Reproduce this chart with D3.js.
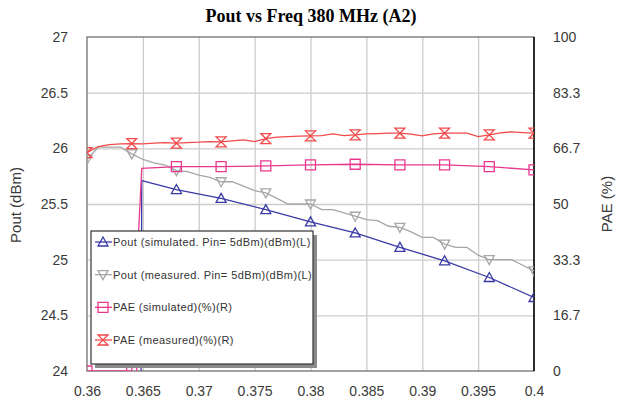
<!DOCTYPE html>
<html>
<head>
<meta charset="utf-8">
<script src="https://cdn.jsdelivr.net/npm/d3@7/dist/d3.min.js"></script>
<style>
  body { margin: 0; background: #fff; }
  text { font-family: "Liberation Sans", Arial, sans-serif; }
</style>
</head>
<body>
<div id="chart"></div>
<script>
// Pout / PAE vs frequency (GHz), 380 MHz board A2

// measured sweep
var measFreq = [0.360, 0.361, 0.362, 0.363, 0.364, 0.365, 0.366, 0.367, 0.368, 0.369,
                0.370, 0.371, 0.372, 0.373, 0.374, 0.375, 0.376, 0.377, 0.378, 0.379,
                0.380, 0.381, 0.382, 0.383, 0.384, 0.385, 0.386, 0.387, 0.388, 0.389,
                0.390, 0.391, 0.392, 0.393, 0.394, 0.395, 0.396, 0.397, 0.398, 0.399, 0.400];
var poutMeas = [25.90, 26.01, 26.01, 26.01, 25.95, 25.90, 25.87, 25.85, 25.80, 25.79,
                25.76, 25.74, 25.70, 25.70, 25.66, 25.62, 25.60, 25.55, 25.50, 25.50,
                25.50, 25.45, 25.45, 25.42, 25.39, 25.36, 25.35, 25.30, 25.29, 25.25,
                25.20, 25.20, 25.14, 25.11, 25.11, 25.04, 25.00, 25.00, 25.00, 24.95, 24.90];
var paeMeas = [65.4, 67.2, 67.8, 68.0, 68.1, 68.0, 68.2, 68.4, 68.2, 68.4,
               68.5, 68.7, 68.6, 68.9, 69.2, 68.7, 69.6, 70.0, 70.2, 70.3,
               70.4, 70.5, 71.0, 70.5, 70.7, 71.0, 71.1, 71.2, 71.2, 70.9,
               70.4, 71.0, 71.2, 71.2, 71.2, 70.2, 70.7, 71.3, 71.6, 71.4, 71.2];

// simulated sweep (fails below ~0.365)
var simFreq = [0.360, 0.364, 0.3649, 0.368, 0.372, 0.376, 0.380, 0.384, 0.388, 0.392, 0.396, 0.400];
var poutSim = [0, 0, 25.71, 25.63, 25.55, 25.45, 25.34, 25.24, 25.11, 24.99, 24.84, 24.66];
var paeSim  = [0, 0, 60.7, 61.2, 61.2, 61.4, 61.7, 61.9, 61.7, 61.7, 61.2, 60.2];

var xTicks = [0.36, 0.365, 0.37, 0.375, 0.38, 0.385, 0.39, 0.395, 0.4];
var poutTicks = [24, 24.5, 25, 25.5, 26, 26.5, 27];
var paeTickLabels = ["0", "16.7", "33.3", "50", "66.7", "83.3", "100"];

var legendLabels = ["Pout (simulated. Pin= 5dBm)(dBm)(L)",
                    "Pout (measured. Pin= 5dBm)(dBm)(L)",
                    "PAE (simulated)(%)(R)",
                    "PAE (measured)(%)(R)"];

var width = 618, height = 404;
var pLeft = 87, pRight = 534, pTop = 37, pBottom = 371;

var svg = d3.select("#chart").append("svg")
  .attr("width", width)
  .attr("height", height);

var x = d3.scaleLinear().domain([0.36, 0.4]).range([pLeft, pRight]);
var yL = d3.scaleLinear().domain([24, 27]).range([pBottom, pTop]);
var yR = d3.scaleLinear().domain([0, 100]).range([pBottom, pTop]);

// clip
svg.append("clipPath").attr("id", "plotclip")
  .append("rect")
  .attr("x", pLeft).attr("y", pTop)
  .attr("width", pRight - pLeft).attr("height", pBottom - pTop);

// grid
svg.append("g")
  .attr("transform", "translate(0," + pBottom + ")")
  .call(d3.axisBottom(x).tickValues(xTicks.slice(1, -1)).tickSize(-(pBottom - pTop)).tickFormat(""))
  .call(g => g.select(".domain").remove())
  .selectAll("line").attr("stroke", "#cdcdcd").attr("stroke-width", 1.3);

svg.append("g")
  .attr("transform", "translate(" + pLeft + ",0)")
  .call(d3.axisLeft(yL).tickValues(poutTicks.slice(1, -1)).tickSize(-(pRight - pLeft)).tickFormat(""))
  .call(g => g.select(".domain").remove())
  .selectAll("line").attr("stroke", "#cdcdcd").attr("stroke-width", 1.3);

// tick labels
var xAxis = svg.append("g")
  .attr("transform", "translate(0," + pBottom + ")")
  .call(d3.axisBottom(x).tickValues(xTicks).tickSize(0).tickPadding(15).tickFormat(d => String(d)));
xAxis.select(".domain").remove();

var lAxis = svg.append("g")
  .attr("transform", "translate(" + pLeft + ",0)")
  .call(d3.axisLeft(yL).tickValues(poutTicks).tickSize(0).tickPadding(19).tickFormat(d => String(d)));
lAxis.select(".domain").remove();

var rAxis = svg.append("g")
  .attr("transform", "translate(" + pRight + ",0)")
  .call(d3.axisRight(yR).tickValues(paeTickLabels.map((d, i) => i * 100 / 6))
    .tickSize(0).tickPadding(19).tickFormat((d, i) => paeTickLabels[i]));
rAxis.select(".domain").remove();

svg.selectAll(".tick text")
  .attr("font-family", "Liberation Sans, Arial, sans-serif")
  .attr("font-size", 14)
  .attr("fill", "#3a3a3a");

// frame
svg.append("rect")
  .attr("x", pLeft).attr("y", pTop)
  .attr("width", pRight - pLeft).attr("height", pBottom - pTop)
  .attr("fill", "none").attr("stroke", "#707070").attr("stroke-width", 1.3);
svg.append("line")
  .attr("x1", pRight).attr("x2", pRight).attr("y1", pTop).attr("y2", pBottom)
  .attr("stroke", "#111").attr("stroke-width", 1.6);

// title & axis titles
svg.append("text")
  .attr("x", 311).attr("y", 22)
  .attr("text-anchor", "middle")
  .style("font-family", "Liberation Serif, Times New Roman, serif")
  .attr("font-weight", "bold").attr("font-size", 18)
  .text("Pout vs Freq 380 MHz (A2)");

svg.append("text")
  .attr("transform", "translate(21,205) rotate(-90)")
  .attr("text-anchor", "middle")
  .attr("font-size", 15).attr("fill", "#3a3a3a")
  .text("Pout (dBm)");

svg.append("text")
  .attr("transform", "translate(612,204) rotate(-90)")
  .attr("text-anchor", "middle")
  .attr("font-size", 15).attr("fill", "#3a3a3a")
  .text("PAE (%)");

// marker shapes
var shapes = {
  up:   "M0,-5L5,4L-5,4Z",
  down: "M0,5L5,-4L-5,-4Z",
  square: "M-5,-5H5V5H-5Z",
  hour: "M-5,-5H5L-5,5H5Z"
};

var series = [
  { freq: simFreq,  vals: poutSim,  y: yL, color: "#3a3aa6", shape: "up" },
  { freq: measFreq, vals: poutMeas, y: yL, color: "#a6a6a6", shape: "down" },
  { freq: simFreq,  vals: paeSim,   y: yR, color: "#e8388e", shape: "square" },
  { freq: measFreq, vals: paeMeas,  y: yR, color: "#f24a4a", shape: "hour" }
];

var plot = svg.append("g").attr("clip-path", "url(#plotclip)");

series.forEach(function(s) {
  var pts = s.freq.map((f, i) => [f, s.vals[i]]);
  var line = d3.line().x(d => x(d[0])).y(d => s.y(d[1]));
  plot.append("path")
    .attr("d", line(pts))
    .attr("fill", "none")
    .attr("stroke", s.color)
    .attr("stroke-width", 1.3);

  // markers every 0.004
  var marks = pts.filter(d => Math.abs(d[0] * 250 - Math.round(d[0] * 250)) < 1e-6);
  plot.selectAll(null)
    .data(marks).enter()
    .append("path")
    .attr("d", shapes[s.shape])
    .attr("transform", d => "translate(" + x(d[0]) + "," + s.y(d[1]) + ")")
    .attr("fill", "none")
    .attr("stroke", s.color)
    .attr("stroke-width", 1.3);
});

// legend
var lg = svg.append("g").attr("transform", "translate(91,231)");
var lw = 222, lh = 133;
lg.append("rect")
  .attr("x", 4).attr("y", 4).attr("width", lw).attr("height", lh)
  .attr("fill", "#8a8a8a");
lg.append("rect")
  .attr("x", 0).attr("y", 0).attr("width", lw).attr("height", lh)
  .attr("fill", "#fff").attr("stroke", "#333").attr("stroke-width", 1.2);

var rowY = d3.scalePoint().domain(d3.range(legendLabels.length)).range([11, 109]);

var rows = lg.selectAll(".lrow")
  .data(series).enter()
  .append("g")
  .attr("class", "lrow")
  .attr("transform", (d, i) => "translate(0," + rowY(i) + ")");

rows.append("line")
  .attr("x1", 4).attr("x2", 21).attr("y1", 0).attr("y2", 0)
  .attr("stroke", d => d.color).attr("stroke-width", 1.3);
rows.append("path")
  .attr("d", d => shapes[d.shape])
  .attr("transform", "translate(12,0)")
  .attr("fill", "none")
  .attr("stroke", d => d.color).attr("stroke-width", 1.3);
rows.append("text")
  .attr("x", 22).attr("y", 4)
  .attr("font-size", 11)
  .attr("letter-spacing", 0.4)
  .attr("fill", "#333")
  .text((d, i) => legendLabels[i]);
</script>
</body>
</html>
